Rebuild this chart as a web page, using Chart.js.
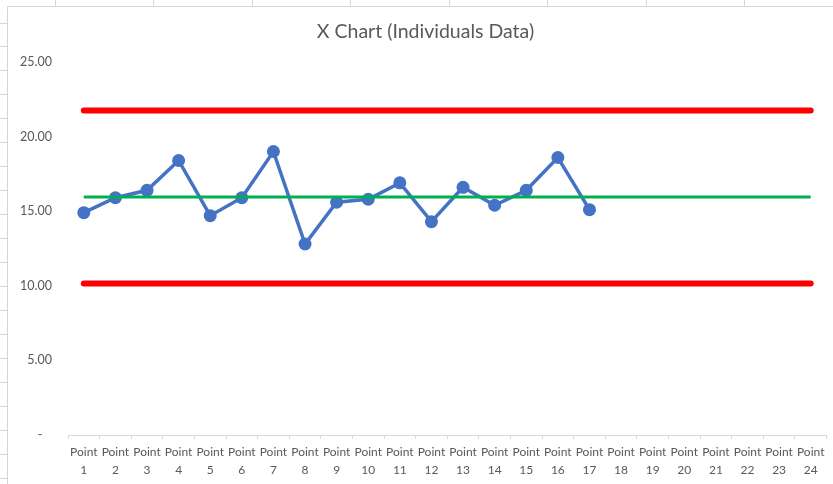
<!DOCTYPE html>
<html>
<head>
<meta charset="utf-8">
<script src="https://cdn.jsdelivr.net/npm/chart.js@4/dist/chart.umd.min.js"></script>
<style>
  html, body { margin: 0; padding: 0; background: #fff; }
  #wrap { width: 833px; height: 484px; }
</style>
</head>
<body>
<div id="wrap"><canvas id="xChart" width="833" height="484"></canvas></div>
<script>
// categories: Point 1 .. Point 24 (two-line labels)
var pointNames = ['1','2','3','4','5','6','7','8','9','10','11','12',
                  '13','14','15','16','17','18','19','20','21','22','23','24'];
// individual values (17 points so far)
var xValues = [14.9, 15.9, 16.4, 18.4, 14.7, 15.9, 19.0, 12.8, 15.6, 15.8, 16.9, 14.3,
               16.6, 15.4, 16.4, 18.6, 15.1];
// control limits
var meanValue = 15.95;
var uclValue = 21.75;
var lclValue = 10.15;
// y axis ticks
var yTicks = [0, 5, 10, 15, 20, 25];

var labels = pointNames.map(function(n) { return ['Point', n]; });
var meanLine = pointNames.map(function() { return meanValue; });
var uclLine = pointNames.map(function() { return uclValue; });
var lclLine = pointNames.map(function() { return lclValue; });

//spreadsheet cells behind the chart object
var sheetBackground = {
  id: 'sheetBackground',
  beforeDraw: function(chart) {
    var ctx = chart.ctx;
    ctx.save();
    ctx.fillStyle = '#ffffff';
    ctx.fillRect(0, 0, chart.width, chart.height);
    ctx.strokeStyle = '#d6d6d6';
    ctx.lineWidth = 1;
    ctx.beginPath();
    // row lines in the left margin
    for (var y = 22.5; y < chart.height; y += 23.95) {
      ctx.moveTo(0, Math.round(y) + 0.5);
      ctx.lineTo(7, Math.round(y) + 0.5);
    }
    // column lines above the chart
    for (var x = 54.5; x < chart.width; x += 98.5) {
      ctx.moveTo(Math.round(x) + 0.5, 0);
      ctx.lineTo(Math.round(x) + 0.5, 6);
    }
    // chart object border
    ctx.moveTo(7.5, 6.5);
    ctx.lineTo(chart.width, 6.5);
    ctx.moveTo(7.5, 6.5);
    ctx.lineTo(7.5, chart.height);
    ctx.stroke();
    ctx.restore();
  }
};

var ctx = document.getElementById('xChart').getContext('2d');
var myChart = new Chart(ctx, {
  type: 'line',
  data: {
    labels: labels,
    datasets: [
      {
        label: 'Average',
        data: meanLine,
        borderColor: '#00b050',
        borderWidth: 3,
        pointRadius: 0,
        fill: false,
        order: 0
      },
      {
        label: 'UCL',
        data: uclLine,
        borderColor: '#ff0000',
        borderWidth: 6,
        borderCapStyle: 'round',
        pointRadius: 0,
        fill: false,
        order: 1
      },
      {
        label: 'LCL',
        data: lclLine,
        borderColor: '#ff0000',
        borderWidth: 6,
        borderCapStyle: 'round',
        pointRadius: 0,
        fill: false,
        order: 2
      },
      {
        label: 'X',
        data: xValues,
        borderColor: '#4472c4',
        backgroundColor: '#4472c4',
        borderWidth: 3.5,
        pointRadius: 6.5,
        pointBorderWidth: 0,
        pointBackgroundColor: '#4472c4',
        fill: false,
        order: 3
      }
    ]
  },
  options: {
    responsive: false,
    animation: false,
    layout: { padding: { left: 18, right: 0, top: 7, bottom: 0 } },
    plugins: {
      legend: { display: false },
      tooltip: { enabled: false },
      title: {
        display: true,
        text: 'X Chart (Individuals Data)',
        color: '#595959',
        font: { family: 'Lato', size: 19.5, weight: 'normal', lineHeight: 1.2 },
        padding: { top: 13, bottom: 18.6 }
      }
    },
    scales: {
      x: {
        offset: true,
        grid: {
          offset: true,
          drawOnChartArea: false,
          drawTicks: true,
          tickLength: 4,
          color: '#d9d9d9'
        },
        border: { display: true, color: '#d9d9d9', width: 1 },
        ticks: {
          color: '#595959',
          font: { family: 'Lato', size: 12, lineHeight: 1.5 },
          padding: 4,
          autoSkip: false,
          maxRotation: 0,
          minRotation: 0
        },
        afterFit: function(scale) { scale.height = 49; }
      },
      y: {
        min: 0,
        max: 25,
        afterBuildTicks: function(scale) {
          scale.ticks = yTicks.map(function(v) { return { value: v }; });
        },
        grid: { display: false, drawTicks: false },
        border: { display: false },
        ticks: {
          color: '#595959',
          font: { family: 'Lato', size: 12.5 },
          padding: 16,
          callback: function(value) {
            return value === 0 ? '-   ' : value.toFixed(2);
          }
        },
        afterFit: function(scale) { scale.width = 50; }
      },
      // empty strip on the right so the plot ends where the reference does
      yRight: {
        position: 'right',
        display: true,
        grid: { display: false, drawTicks: false },
        border: { display: false },
        ticks: { display: false },
        afterFit: function(scale) { scale.width = 5; }
      }
    }
  },
  plugins: [sheetBackground]
});
</script>
</body>
</html>
